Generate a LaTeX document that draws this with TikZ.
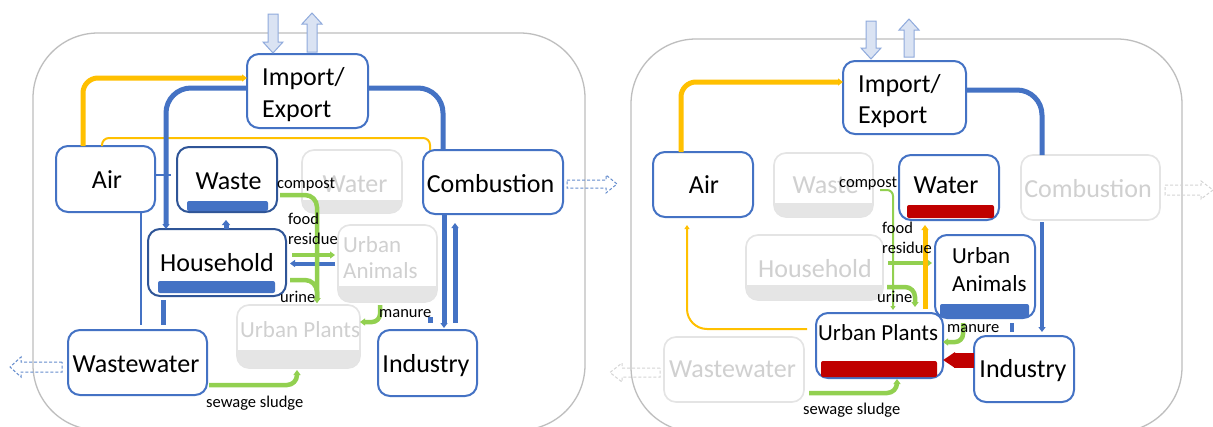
\documentclass[tikz,border=0pt]{standalone}
\usepackage{fontspec}
\setmainfont{Carlito}
\usetikzlibrary{arrows.meta}
\definecolor{bblue}{RGB}{68,114,196}
\definecolor{dblue}{RGB}{47,85,151}
\definecolor{yel}{RGB}{255,192,0}
\definecolor{grn}{RGB}{146,208,80}
\definecolor{dred}{RGB}{192,0,0}
\definecolor{ghl}{RGB}{228,228,228}
\definecolor{ght}{RGB}{208,208,208}
\definecolor{ghb}{RGB}{229,229,229}
\definecolor{framec}{RGB}{190,190,190}
\definecolor{iofill}{RGB}{218,227,243}
\definecolor{ioline}{RGB}{143,170,220}
\definecolor{dashb}{RGB}{100,140,205}
\definecolor{dashg}{RGB}{212,212,212}
\newcommand\ghostbar[2]{%
  \begin{scope}
    \clip ([yshift=#2]#1.south west) rectangle (#1.south east);
    \fill[ghb, rounded corners=12pt] (#1.south west) rectangle (#1.north east);
  \end{scope}}
\tikzset{
  box/.style={draw=bblue, line width=2pt, rounded corners=12pt, fill=white, inner sep=0pt, outer sep=0pt},
  dbox/.style={box, draw=dblue},
  gbox/.style={box, draw=ghl, line width=1.6pt},
  bthick/.style={draw=bblue, line width=5pt},
  bmid/.style={draw=bblue, line width=3.5pt},
  bthin/.style={draw=bblue, line width=2pt},
  ythick/.style={draw=yel, line width=5pt},
  ythin/.style={draw=yel, line width=2pt},
  gthick/.style={draw=grn, line width=4.5pt},
  gthin/.style={draw=grn, line width=2pt},
  redarr/.style={draw=dred, line width=15pt, -{Triangle[length=12pt,width=15pt]}},
  Tb/.tip={Triangle[length=5pt,width=7pt]},
  Ts/.tip={Triangle[length=4pt,width=5pt]},
  ioarr/.style={fill=iofill, draw=ioline, line width=1pt, line join=miter},
  dasharr/.style={draw=#1, line width=1pt, dash pattern=on 3pt off 2pt},
  framebox/.style={draw=framec, line width=1.3pt, rounded corners=65pt},
  big/.style={font=\fontsize{26}{31}\selectfont, inner sep=0pt},
  mid/.style={font=\fontsize{23}{28}\selectfont, inner sep=0pt},
  sm/.style={font=\fontsize{16.5}{20}\selectfont, inner sep=0pt},
  ghosttext/.style={text=ght}
}
\begin{document}
\begin{tikzpicture}[x=1pt,y=-1pt]
\useasboundingbox (0,0) rectangle (1213,426);
\fill[white] (0,0) rectangle (1213,426);
% frames
\draw[framebox] (33,33) rectangle (585,430);
\draw[framebox] (631,39) rectangle (1182,432);

% ===== left panel boxes =====
\node[box, minimum width=121pt, minimum height=74pt] (imp) at (307.5,91) {};
\node[box, minimum width=99pt, minimum height=66pt] (air) at (105.5,179) {};
\node[dbox, minimum width=100pt, minimum height=65pt] (waste) at (227,179.5) {};
\node[gbox, minimum width=100pt, minimum height=63pt] (water) at (352,181.5) {};
\node[box, minimum width=140pt, minimum height=64pt] (comb) at (493,182) {};
\node[dbox, minimum width=138pt, minimum height=67pt] (hh) at (217,262.5) {};
\node[gbox, minimum width=99pt, minimum height=77pt] (ua) at (387.5,263.5) {};
\node[gbox, minimum width=123pt, minimum height=63pt] (up) at (298.5,336.5) {};
\node[box, minimum width=139pt, minimum height=65pt] (ww) at (137.5,362.5) {};
\node[box, minimum width=99pt, minimum height=66pt] (ind) at (427.5,363) {};
\ghostbar{water}{13}
\ghostbar{ua}{16}
\ghostbar{up}{18}
\fill[bblue, rounded corners=2pt] ([xshift=10,yshift=1]waste.south west) rectangle ([xshift=-9,yshift=11]waste.south east);
\fill[bblue, rounded corners=2pt] ([xshift=10,yshift=3]hh.south west) rectangle ([xshift=-11,yshift=15]hh.south east);

% ===== right panel boxes =====
\node[box, minimum width=123pt, minimum height=73pt] (imp2) at (904.5,97.5) {};
\node[box, minimum width=100pt, minimum height=65pt] (air2) at (703,184.5) {};
\node[gbox, minimum width=99pt, minimum height=64pt] (waste2) at (823.5,185) {};
\node[box, minimum width=100pt, minimum height=65pt] (water2) at (949,187.5) {};
\node[gbox, minimum width=139pt, minimum height=65pt] (comb2) at (1090.5,187.5) {};
\node[gbox, minimum width=137pt, minimum height=65pt] (hh2) at (814.5,267.5) {};
\node[box, minimum width=100pt, minimum height=83pt] (ua2) at (985,276.5) {};
\node[box, minimum width=127pt, minimum height=65pt] (up2) at (879.5,345.5) {};
\node[gbox, minimum width=140pt, minimum height=65pt] (ww2) at (734,369.5) {};
\node[box, minimum width=100pt, minimum height=66pt] (ind2) at (1024,369) {};
\ghostbar{waste2}{14}
\ghostbar{hh2}{15}
\fill[dred, rounded corners=2pt] ([xshift=8,yshift=2]water2.south west) rectangle ([xshift=-5,yshift=15]water2.south east);
\fill[bblue, rounded corners=2pt] ([xshift=5,yshift=1]ua2.south west) rectangle ([xshift=-6,yshift=14]ua2.south east);
\fill[dred, rounded corners=2pt] ([xshift=5,yshift=1]up2.south west) rectangle ([xshift=-6,yshift=17]up2.south east);

% ===== import / export arrows =====
\draw[ioarr] ([xshift=-34.5,yshift=1]imp.north) -- ++(10,-11) -- ++(-5,0) -- ++(0,-28) -- ++(-10,0) -- ++(0,28) -- ++(-5,0) -- cycle;
\draw[ioarr] ([xshift=4.5,yshift=2]imp.north) -- ++(5,0) -- ++(0,-28) -- ++(5,0) -- ++(-10,-11) -- ++(-10,11) -- ++(5,0) -- ++(0,28) -- cycle;
\draw[ioarr] ([xshift=-33.5,yshift=2]imp2.north) -- ++(10,-11) -- ++(-5,0) -- ++(0,-27) -- ++(-10,0) -- ++(0,27) -- ++(-5,0) -- cycle;
\draw[ioarr] ([xshift=4.5,yshift=4]imp2.north) -- ++(5,0) -- ++(0,-27) -- ++(5,0) -- ++(-10,-11) -- ++(-10,11) -- ++(5,0) -- ++(0,27) -- cycle;

% ===== dashed out arrows =====
\draw[dasharr=dashb] ([xshift=4,yshift=2]comb.east) -- ++(39,0) -- ++(0,-5) -- ++(11,9) -- ++(-11,9) -- ++(0,-5) -- ++(-39,0) -- cycle;
\draw[dasharr=dashb] ([xshift=-6,yshift=0.5]ww.west) -- ++(-41,0) -- ++(0,-5) -- ++(-11,10) -- ++(11,10) -- ++(0,-5) -- ++(41,0) -- cycle;
\draw[dasharr=dashg] ([xshift=5,yshift=2.5]comb2.east) -- ++(36,0) -- ++(0,-4) -- ++(12,9) -- ++(-12,9) -- ++(0,-4) -- ++(-36,0) -- cycle;
\draw[dasharr=dashg] ([xshift=-4,yshift=1.5]ww2.west) -- ++(-38,0) -- ++(0,-5) -- ++(-12,9.5) -- ++(12,9.5) -- ++(0,-5) -- ++(38,0) -- cycle;

% ===== left connectors =====
\draw[ythick, rounded corners=15pt, -{Tb}] ([xshift=-22.5]air.north) |- ([yshift=13]imp.west);
\draw[ythin, rounded corners=7pt] ([xshift=-3.5]air.north) -- ++(0,-8) -| ([xshift=-63]comb.north);
\draw[bthick, rounded corners=25pt, -{Tb}] ([yshift=3]imp.west) -| ([xshift=-51]hh.north);
\draw[bthick, rounded corners=25pt] ([yshift=3]imp.east) -| ([xshift=-50]comb.north);
\draw[bthick, -{Tb}, shorten >=2] ([xshift=-49]comb.south) -- ([xshift=16.5]ind.north);
\draw[bthick, -{Tb}, shorten <=7, shorten >=9] ([xshift=27.5]ind.north) -- ([xshift=-38]comb.south);
\draw[bthin] ([yshift=4]air.east) -- ++(16,0);
\draw[bthin] ([xshift=35.5]air.south) -- ([xshift=3.5,yshift=5]ww.north);
\draw[bthick, shorten <=4, shorten >=5] ([xshift=-54]hh.south) -- ([xshift=25.5]ww.north);
\draw[bthick, -{Triangle[length=5pt,width=8pt]}, shorten >=8] ([xshift=9]hh.north) -- ([xshift=-1]waste.south);
\draw[bthick, line width=4pt, -{Tb}, shorten <=3, shorten >=4] (ua.west) -- ([yshift=-1]hh.east);
\draw[bthick, shorten <=15, shorten >=7] ([xshift=42.5]ua.south) -- ([xshift=2.5]ind.north);
\draw[gthick, rounded corners=12pt, -{Tb}, shorten <=3, shorten >=2] ([yshift=-15.5]waste.east) -| ([xshift=18.5]up.north);
\draw[gthick, -{Tb}, shorten <=6, shorten >=3] ([yshift=7.5]hh.east) -- ([yshift=8.5]ua.west);
\draw[gthick, rounded corners=12pt, -{Tb}, shorten <=4, shorten >=2] ([yshift=-17.5]hh.east) -| ([xshift=18.5]up.north);
\draw[gthick, rounded corners=8pt, -{Tb}, shorten <=3] ([xshift=-7.5]ua.south) |- ([yshift=14.5]up.east);
\draw[gthick, rounded corners=10pt, -{Tb}, shorten <=2, shorten >=2] ([yshift=-22.5]ww.east) -| ([xshift=-1.5]up.south);

% ===== right connectors =====
\draw[ythick, rounded corners=15pt, -{Tb}] ([xshift=-22]air2.north) |- ([yshift=15.5]imp2.west);
\draw[bthick, rounded corners=25pt] ([yshift=7.5]imp2.east) -| ([xshift=-48.5]comb2.north);
\draw[bmid, -{Tb}, shorten <=2, shorten >=4] ([xshift=-48.5]comb2.south) -- ([xshift=18]ind2.north);
\draw[ythin, rounded corners=20pt, -{Ts}, shorten <=9, shorten >=8] ([yshift=16.5]up2.west) -| ([xshift=-16]air2.south);
\draw[gthin, rounded corners=6pt, -{Ts}, shorten <=7, shorten >=3] ([yshift=-5]waste2.east) -| ([xshift=13.5]up2.north);
\draw[gthick, -{Tb}, shorten <=5, shorten >=3] ([yshift=4.5]hh2.east) -- ([yshift=13.5]ua2.west);
\draw[gthick, rounded corners=10pt, -{Tb}, shorten <=4, shorten >=6] ([yshift=-19.5]hh2.east) -| ([xshift=35.5]up2.north);
\draw[ythick, -{Tb}, shorten <=4, shorten >=5] ([xshift=45.5]up2.north) -- ([xshift=-24]water2.south);
\draw[gthick, rounded corners=8pt, -{Tb}, shorten <=5] ([xshift=-22]ua2.south) |- ([yshift=3.5]up2.east);
\draw[bmid, shorten <=5, shorten >=4] ([xshift=27]ua2.south) -- ([xshift=-12]ind2.north);
\draw[redarr] ([yshift=9]ind2.west) -- ([yshift=-14.5]up2.east);
\draw[gthick, rounded corners=10pt, -{Tb}, shorten <=5, shorten >=1] ([yshift=-23.5]ww2.east) -| ([xshift=17.5]up2.south);

% ===== left texts =====
\node[big, anchor=base west] (impt1) at (262,85) {Import/};
\node[big, anchor=base west] (impt2) at (262,117) {Export};
\node[big, anchor=base] (airt) at (107,188) {Air};
\node[big, anchor=base] (wastet) at (228.5,189) {Waste};
\node[big, anchor=base, ghosttext] (watert) at (355,192) {Water};
\node[big, anchor=base] (combt) at (490.5,192) {Combustion};
\node[big, anchor=base] (hht) at (217,271) {Household};
\node[mid, anchor=base west, ghosttext] (uat1) at (343,252) {Urban};
\node[mid, anchor=base west, ghosttext] (uat2) at (343,278) {Animals};
\node[mid, anchor=base west, ghosttext] (upt) at (240,337) {Urban Plants};
\node[big, anchor=base] (wwt) at (136,372) {Wastewater};
\node[big, anchor=base] (indt) at (426,372) {Industry};
\node[sm, anchor=base west] (lc) at (277,188) {compost};
\node[sm, anchor=base west] (lf) at (288,224) {food};
\node[sm, anchor=base west] (lr) at (288,244) {residue};
\node[sm, anchor=base west] (lu) at (280,302) {urine};
\node[sm, anchor=base west] (lm) at (379,317) {manure};
\node[sm, anchor=base west] (ls) at (206,407) {sewage sludge};

% ===== right texts =====
\node[big, anchor=base west] (imp2t1) at (858,92) {Import/};
\node[big, anchor=base west] (imp2t2) at (858,123) {Export};
\node[big, anchor=base] (air2t) at (704,193) {Air};
\node[big, anchor=base, ghosttext] (waste2t) at (825.5,193) {Waste};
\node[big, anchor=base] (water2t) at (946,193) {Water};
\node[big, anchor=base, ghosttext] (comb2t) at (1088,197) {Combustion};
\node[big, anchor=base, ghosttext] (hh2t) at (815,277) {Household};
\node[mid, anchor=base west] (ua2t1) at (952,263) {Urban};
\node[mid, anchor=base west] (ua2t2) at (952,291) {Animals};
\node[mid, anchor=base west] (up2t) at (818,340) {Urban Plants};
\node[big, anchor=base, ghosttext] (ww2t) at (732.5,377) {Wastewater};
\node[big, anchor=base] (ind2t) at (1023,377) {Industry};
\node[sm, anchor=base west] (rc) at (839,187) {compost};
\node[sm, anchor=base west] (rf) at (882,233) {food};
\node[sm, anchor=base west] (rr) at (882,253) {residue};
\node[sm, anchor=base west] (ru) at (877,302) {urine};
\node[sm, anchor=base west] (rm) at (947,332) {manure};
\node[sm, anchor=base west] (rs) at (803,414) {sewage sludge};
\end{tikzpicture}
\end{document}
